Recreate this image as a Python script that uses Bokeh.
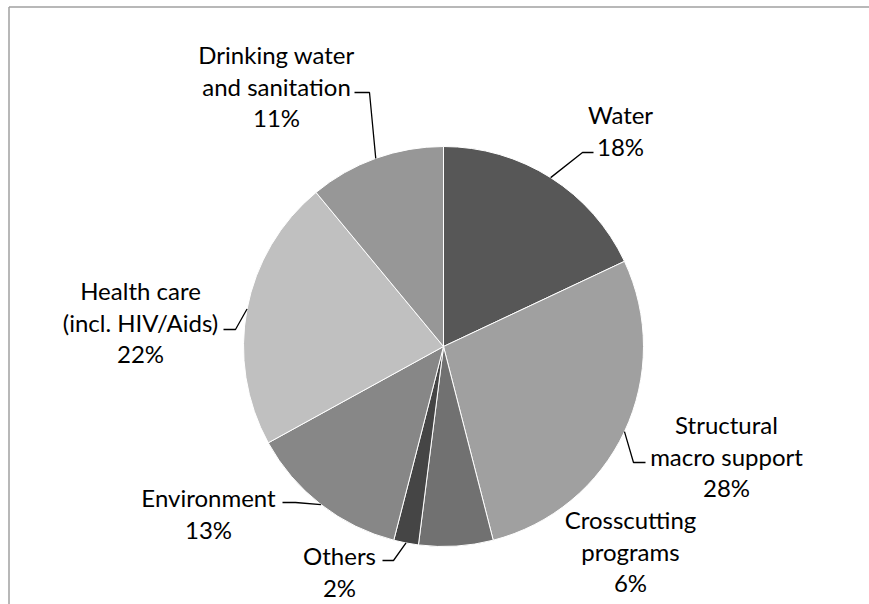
import numpy as np
from bokeh.plotting import figure
from bokeh.models import Range1d
from bokeh.core.properties import value
from bokeh.embed import file_html
from bokeh.resources import INLINE

# ---- data ----
categories = ["Water", "Structural\nmacro support", "Crosscutting\nprograms", "Others",
              "Environment", "Health care\n(incl. HIV/Aids)", "Drinking water\nand sanitation"]
shares = [18, 28, 6, 2, 13, 22, 11]
colors = ["#575757", "#a0a0a0", "#717171", "#454545", "#878787", "#c0c0c0", "#979797"]

# ---- layout (screen px) ----
label_pos = [(620, 114), (726, 424), (630, 519), (339, 555), (208, 497), (140, 290), (276, 54)]
leader_elbow = [((582, 152), (593, 152)), ((633, 462), (645, 462)), None,
                ((393, 560), (382, 560)), ((295, 502), (282, 502)),
                ((235, 329), (223, 329)), ((369, 92), (354, 92))]
CX, CY, R = 443, 346, 200
LINE_H = 31.6
FONT = "Lato"
FSIZE = "24px"

W, H = 869, 604


def Y(sy):
    return H - sy


p = figure(width=W, height=H, output_backend="svg", toolbar_location=None,
           x_range=Range1d(0, W), y_range=Range1d(0, H), min_border=0,
           background_fill_color="white", border_fill_color="white")
p.axis.visible = False
p.grid.visible = False
p.outline_line_color = None

# chart border (top & left)
p.segment(x0=[8.5, 8.5], y0=[Y(6.5), Y(6.5)], x1=[W, 8.5], y1=[Y(6.5), 0],
          line_color="#a0a0a0", line_width=1.5)

total = float(sum(shares))
cum = np.concatenate([[0], np.cumsum(shares)]) / total * 360.0
starts = np.deg2rad(90 - cum[1:])
ends = np.deg2rad(90 - cum[:-1])
p.wedge(x=CX, y=Y(CY), radius=R, start_angle=starts, end_angle=ends,
        direction="anticlock", fill_color=colors, line_color="white", line_width=1)

# leader lines
xs, ys = [], []
for i, el in enumerate(leader_elbow):
    if el is None:
        continue
    mid = np.deg2rad(90 - (cum[i] + cum[i + 1]) / 2)
    ax, ay = CX + R * np.cos(mid), CY - R * np.sin(mid)
    xs.append([ax, el[0][0], el[1][0]])
    ys.append([Y(ay), Y(el[0][1]), Y(el[1][1])])
p.multi_line(xs=xs, ys=ys, line_color="black", line_width=1.3)

# labels
tx, ty, tt = [], [], []
for cat, v, (lx, ly) in zip(categories, shares, label_pos):
    lines = cat.split("\n") + [f"{v}%"]
    for k, ln in enumerate(lines):
        tx.append(lx)
        ty.append(Y(ly + k * LINE_H))
        tt.append(ln)
p.text(x=tx, y=ty, text=tt, text_align="center", text_baseline="middle",
       text_font=value(FONT), text_font_size=FSIZE, text_color="black")

open("out.html", "w").write(file_html(p, INLINE))
